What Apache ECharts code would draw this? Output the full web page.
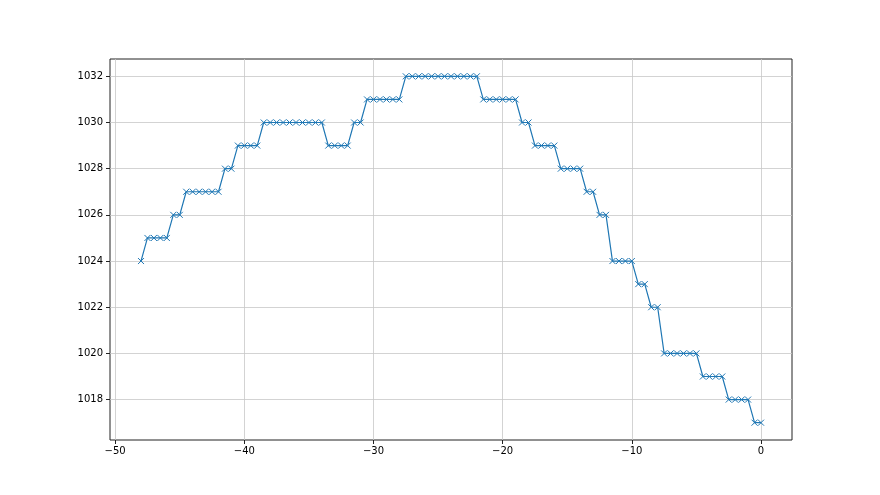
<!DOCTYPE html>
<html>
<head>
<meta charset="utf-8">
<script src="https://cdn.jsdelivr.net/npm/echarts@6/dist/echarts.min.js"></script>
<style>
  html, body { margin: 0; padding: 0; background: #fff; }
  #chart { width: 880px; height: 495px; }
</style>
</head>
<body>
<div id="chart"></div>
<script>
// hours relative to now
var hours = [
  -48, -47.5, -47, -46.5, -46, -45.5, -45, -44.5, -44, -43.5,
  -43, -42.5, -42, -41.5, -41, -40.5, -40, -39.5, -39, -38.5,
  -38, -37.5, -37, -36.5, -36, -35.5, -35, -34.5, -34, -33.5,
  -33, -32.5, -32, -31.5, -31, -30.5, -30, -29.5, -29, -28.5,
  -28, -27.5, -27, -26.5, -26, -25.5, -25, -24.5, -24, -23.5,
  -23, -22.5, -22, -21.5, -21, -20.5, -20, -19.5, -19, -18.5,
  -18, -17.5, -17, -16.5, -16, -15.5, -15, -14.5, -14, -13.5,
  -13, -12.5, -12, -11.5, -11, -10.5, -10, -9.5, -9, -8.5,
  -8, -7.5, -7, -6.5, -6, -5.5, -5, -4.5, -4, -3.5,
  -3, -2.5, -2, -1.5, -1, -0.5, 0
]

var pressure = [
  1024, 1025, 1025, 1025, 1025, 1026, 1026, 1027, 1027, 1027,
  1027, 1027, 1027, 1028, 1028, 1029, 1029, 1029, 1029, 1030,
  1030, 1030, 1030, 1030, 1030, 1030, 1030, 1030, 1030, 1029,
  1029, 1029, 1029, 1030, 1030, 1031, 1031, 1031, 1031, 1031,
  1031, 1032, 1032, 1032, 1032, 1032, 1032, 1032, 1032, 1032,
  1032, 1032, 1032, 1031, 1031, 1031, 1031, 1031, 1031, 1030,
  1030, 1029, 1029, 1029, 1029, 1028, 1028, 1028, 1028, 1027,
  1027, 1026, 1026, 1024, 1024, 1024, 1024, 1023, 1023, 1022,
  1022, 1020, 1020, 1020, 1020, 1020, 1020, 1019, 1019, 1019,
  1019, 1018, 1018, 1018, 1018, 1017, 1017
]

var xTicks = [-50, -40, -30, -20, -10, 0]
var yTicks = [1018, 1020, 1022, 1024, 1026, 1028, 1030, 1032]

var chart = echarts.init(document.getElementById('chart'))

var minus = function (v) {
  return String(v).replace('-', '\u2212')
}

var points = []
for (var i = 0; i < hours.length; i++) {
  points.push([hours[i], pressure[i]])
}

chart.setOption({
  animation: false,
  backgroundColor: '#fff',
  grid: {
    left: 110,
    right: 88,
    top: 59,
    bottom: 55,
    show: true,
    borderColor: '#222',
    borderWidth: 1,
    backgroundColor: 'transparent'
  },
  xAxis: {
    type: 'value',
    min: -50.4,
    max: 2.4,
    axisLine: { show: false, onZero: false },
    axisTick: {
      show: true,
      length: 4,
      customValues: xTicks,
      lineStyle: { color: '#222', width: 1 }
    },
    axisLabel: {
      customValues: xTicks,
      margin: 6,
      color: '#000',
      fontFamily: 'DejaVu Sans',
      fontSize: 10,
      formatter: minus
    },
    splitLine: {
      show: true,
      lineStyle: { color: '#c8c8c8', width: 0.8 }
    }
  },
  yAxis: {
    type: 'value',
    min: 1016.25,
    max: 1032.75,
    axisLine: { show: false, onZero: false },
    axisTick: {
      show: true,
      length: 4,
      customValues: yTicks,
      lineStyle: { color: '#222', width: 1 }
    },
    axisLabel: {
      customValues: yTicks,
      margin: 7,
      color: '#000',
      fontFamily: 'DejaVu Sans',
      fontSize: 10,
      formatter: function (v) { return String(v) }
    },
    splitLine: {
      show: true,
      lineStyle: { color: '#c8c8c8', width: 0.8 }
    }
  },
  series: [{
    type: 'line',
    data: points,
    symbol: 'path://M0,0L10,10M10,0L0,10',
    symbolSize: 6,
    showAllSymbol: true,
    lineStyle: { color: '#1f77b4', width: 1.2 },
    itemStyle: {
      color: 'rgba(0,0,0,0)',
      borderColor: '#1f77b4',
      borderWidth: 1
    }
  }]
})
</script>
</body>
</html>
